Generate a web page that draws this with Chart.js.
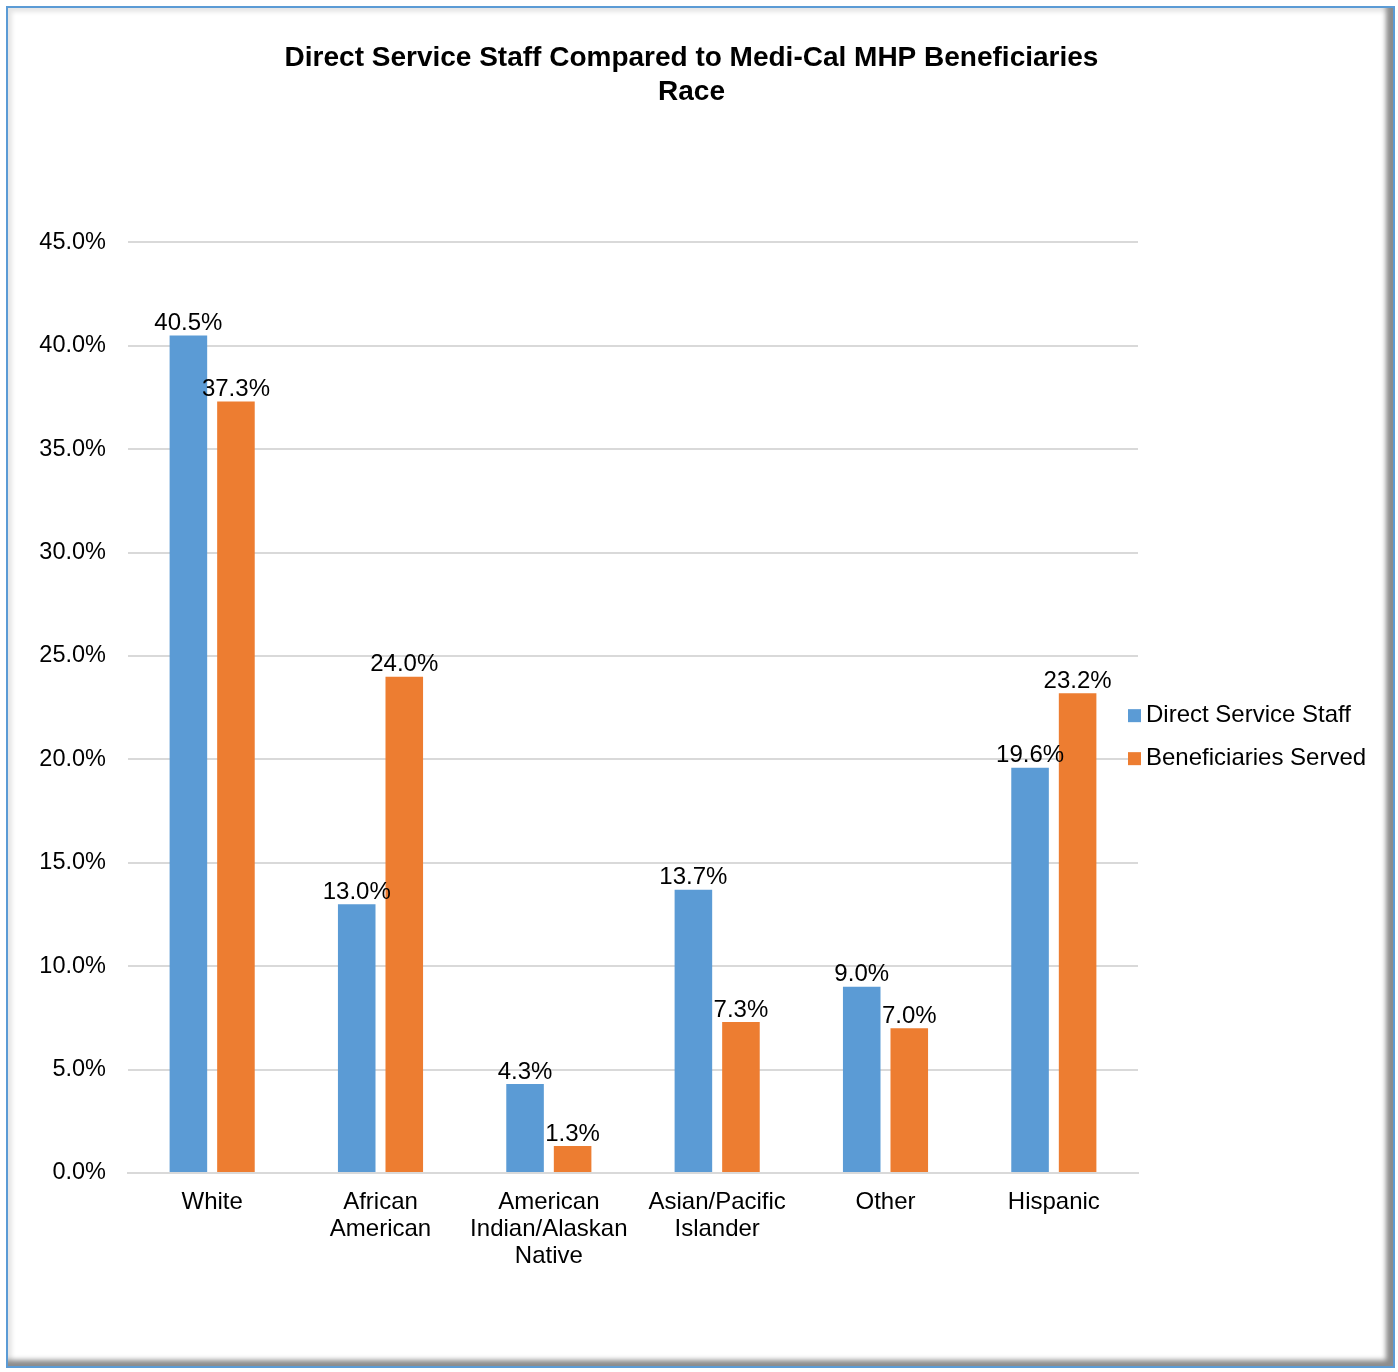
<!DOCTYPE html>
<html lang="en">
<head>
    <meta charset="UTF-8">
    <title>Direct Service Staff Compared to Medi-Cal MHP Beneficiaries - Race</title>
    <style>
        body {
            margin: 0;
            padding: 0;
            background-color: #fff;
            font-family: "Liberation Sans", Arial, sans-serif;
        }

        #frame {
            position: absolute;
            left: 6px;
            top: 6px;
            width: 1389px;
            height: 1362px;
            box-sizing: border-box;
            border: 2px solid #5b9bd5;
            box-shadow: inset -7px -6px 5px #8c8c8c, inset 4px 4px 4px #e6e6e6;
            background-color: #fff;
        }

        #chart-container {
            position: absolute;
            left: 0;
            top: 0;
            width: 1398px;
            height: 1372px;
        }
    </style>
    <script src="https://cdn.jsdelivr.net/npm/chart.js"></script>
</head>
<body>
    <div id="frame"></div>
    <div id="chart-container">
        <canvas id="bar-chart" width="1398" height="1372"></canvas>
    </div>

    <script>
        // chart data
        const categories = [
            'White',
            ['African', 'American'],
            ['American', 'Indian/Alaskan', 'Native'],
            ['Asian/Pacific', 'Islander'],
            'Other',
            'Hispanic'
        ];
        const staffValues = [40.5, 13.0, 4.3, 13.7, 9.0, 19.6];
        const beneficiaryValues = [37.3, 24.0, 1.3, 7.3, 7.0, 23.2];
        const seriesNames = ['Direct Service Staff', 'Beneficiaries Served'];
        const titleLines = ['Direct Service Staff Compared to Medi-Cal MHP Beneficiaries', 'Race'];

        const FONT = '"Liberation Sans", Arial, sans-serif';

        // draws the percentage above each bar
        const barValueLabels = {
            id: 'barValueLabels',
            afterDatasetsDraw(chart) {
                const ctx = chart.ctx;
                ctx.save();
                ctx.font = '24px ' + FONT;
                ctx.fillStyle = '#000';
                ctx.textAlign = 'center';
                ctx.textBaseline = 'bottom';
                chart.data.datasets.forEach((ds, i) => {
                    chart.getDatasetMeta(i).data.forEach((bar, j) => {
                        ctx.fillText(ds.data[j].toFixed(1) + '%', bar.x, bar.y);
                    });
                });
                ctx.restore();
            }
        };

        // legend on the right, added as its own layout box so the title stays centred
        const sideLegend = {
            id: 'sideLegend',
            beforeInit(chart) {
                const box = {
                    position: 'right',
                    weight: 10,
                    fullSize: false,
                    options: {},
                    isHorizontal() {
                        return false;
                    },
                    update(maxWidth, maxHeight) {
                        this.width = 245;
                        this.height = maxHeight;
                    },
                    draw() {
                        const ctx = chart.ctx;
                        const area = chart.chartArea;
                        const mid = (area.top + area.bottom) / 2;
                        ctx.save();
                        ctx.font = '24px ' + FONT;
                        ctx.textBaseline = 'middle';
                        chart.data.datasets.forEach((ds, i) => {
                            const y = mid + 8 + i * 43;
                            ctx.fillStyle = ds.backgroundColor;
                            ctx.fillRect(this.left - 10, y - 6.5, 13, 13);
                            ctx.fillStyle = '#000';
                            ctx.fillText(ds.label, this.left + 8, y);
                        });
                        ctx.restore();
                    }
                };
                Chart.layouts.addBox(chart, box);
            }
        };

        const ctx = document.getElementById('bar-chart').getContext('2d');
        new Chart(ctx, {
            type: 'bar',
            data: {
                labels: categories,
                datasets: [{
                    label: seriesNames[0],
                    data: staffValues,
                    backgroundColor: '#5b9bd5'
                }, {
                    label: seriesNames[1],
                    data: beneficiaryValues,
                    backgroundColor: '#ed7d31'
                }]
            },
            options: {
                responsive: false,
                animation: false,
                categoryPercentage: 0.565,
                barPercentage: 0.79,
                layout: {
                    padding: { left: 0, right: 15, top: 0, bottom: 0 }
                },
                plugins: {
                    title: {
                        display: true,
                        text: titleLines,
                        color: '#000',
                        font: { family: FONT, size: 28, weight: 'bold', lineHeight: 1.22 },
                        padding: { top: 41, bottom: 133 }
                    },
                    legend: { display: false },
                    tooltip: { enabled: false }
                },
                scales: {
                    x: {
                        grid: { display: false },
                        border: { color: '#d9d9d9', width: 2 },
                        ticks: {
                            color: '#000',
                            padding: 8,
                            maxRotation: 0,
                            font: { family: FONT, size: 24, lineHeight: 1.125 }
                        },
                        afterFit(scale) {
                            scale.height = 199;
                        }
                    },
                    y: {
                        min: 0,
                        max: 45,
                        grid: { color: '#d9d9d9', lineWidth: 2, drawTicks: false },
                        border: { display: false },
                        ticks: {
                            stepSize: 5,
                            color: '#000',
                            padding: 22,
                            font: { family: FONT, size: 23.5 },
                            callback: v => v.toFixed(1) + '%'
                        },
                        afterFit(scale) {
                            scale.width = 128;
                        }
                    }
                }
            },
            plugins: [barValueLabels, sideLegend]
        });
    </script>
</body>
</html>
